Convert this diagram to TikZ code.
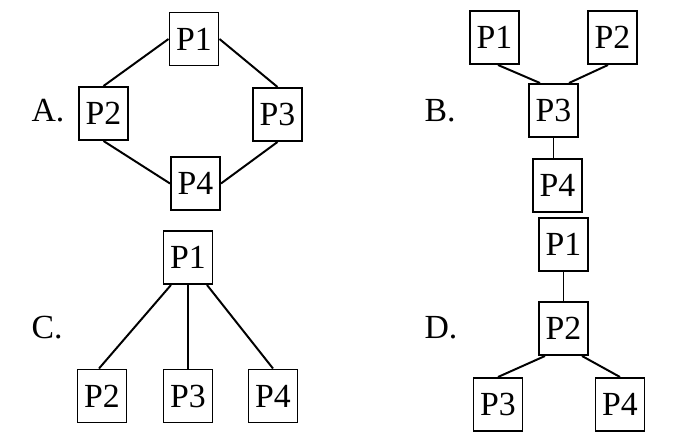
\documentclass[tikz,border=0pt]{standalone}
\usepackage{fontspec}
\setmainfont{Liberation Serif}
\usepackage{tikz}

\begin{document}
\begin{tikzpicture}[x=0.025cm,y=-0.025cm,line width=1.4pt,
    font=\fontsize{24}{28}\selectfont,
    proc/.style={draw,inner sep=0pt,minimum width=1.225cm,minimum height=1.325cm}]
    \useasboundingbox (0,0) rectangle (680,446);
    % A
    \node (la) at (48,111) {A.};
    \node[proc] (a1) at (194,39) {P1};
    \node[proc] (a2) at (103.5,113.5) {P2};
    \node[proc] (a3) at (277.5,114.5) {P3};
    \node[proc] (a4) at (195.5,183.5) {P4};
    \draw (a1.west)--(a2.north);
    \draw (a1.east)--(a3.north);
    \draw (a2.south)--(a4.west);
    \draw (a3.south)--(a4.east);
    % B
    \node (lb) at (440,111) {B.};
    \node[proc] (b1) at (494.5,37.5) {P1};
    \node[proc] (b2) at (612.5,37.5) {P2};
    \node[proc] (b3) at (553.5,110.5) {P3};
    \node[proc] (b4) at (557.5,185.5) {P4};
    \draw ([shift={(3.5,0)}]b1.south)--([shift={(-13.5,0)}]b3.north);
    \draw ([shift={(-4.5,0)}]b2.south)--([shift={(15.5,0)}]b3.north);
    \draw (b3.south)--(b3.south|-b4.north);
    % C
    \node (lc) at (47,328) {C.};
    \node[proc] (c1) at (188,257.5) {P1};
    \node[proc] (c2) at (102,396) {P2};
    \node[proc] (c3) at (188,396) {P3};
    \node[proc] (c4) at (273,396) {P4};
    \draw ([shift={(-17,0)}]c1.south)--([shift={(-3,0)}]c2.north);
    \draw (c1.south)--(c3.north);
    \draw ([shift={(19,0)}]c1.south)--(c4.north);
    % D
    \node (ld) at (441,328) {D.};
    \node[proc] (d1) at (563.5,244.5) {P1};
    \node[proc] (d2) at (563.5,328.5) {P2};
    \node[proc] (d3) at (498,404.5) {P3};
    \node[proc] (d4) at (620,404.5) {P4};
    \draw (d1.south)--(d2.north);
    \draw ([shift={(-18.5,0)}]d2.south)--(d3.north);
    \draw ([shift={(18.5,0)}]d2.south)--(d4.north);
\end{tikzpicture}
\end{document}
